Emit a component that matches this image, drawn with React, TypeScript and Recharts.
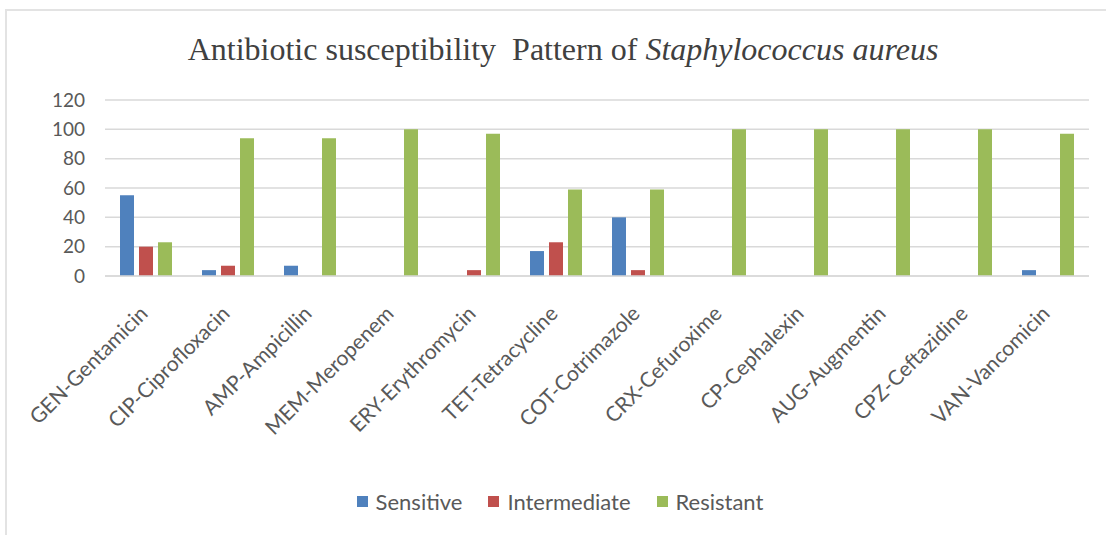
import React from "react";
import {
  BarChart,
  Bar,
  XAxis,
  YAxis,
  CartesianGrid,
  Legend,
} from "recharts";

const CATEGORIES = [
  "GEN-Gentamicin",
  "CIP-Ciprofloxacin",
  "AMP-Ampicillin",
  "MEM-Meropenem",
  "ERY-Erythromycin",
  "TET-Tetracycline",
  "COT-Cotrimazole",
  "CRX-Cefuroxime",
  "CP-Cephalexin",
  "AUG-Augmentin",
  "CPZ-Ceftazidine",
  "VAN-Vancomicin",
];

const SENSITIVE = [55, 4, 7, 0, 0, 17, 40, 0, 0, 0, 0, 4];
const INTERMEDIATE = [20, 7, 0, 0, 4, 23, 4, 0, 0, 0, 0, 0];
const RESISTANT = [23, 94, 94, 100, 97, 59, 59, 100, 100, 100, 100, 97];

const Y_TICKS = [0, 20, 40, 60, 80, 100, 120];

const SERIES = [
  { key: "sensitive", name: "Sensitive", color: "#4F81BD" },
  { key: "intermediate", name: "Intermediate", color: "#C0504D" },
  { key: "resistant", name: "Resistant", color: "#9BBB59" },
];

const data = CATEGORIES.map((name, i) => ({
  name,
  sensitive: SENSITIVE[i],
  intermediate: INTERMEDIATE[i],
  resistant: RESISTANT[i],
}));

const TEXT = "#595959";
const FONT = "Lato, 'Open Sans', sans-serif";

function AngledTick({ x, y, payload }: { x?: number; y?: number; payload?: { value: string } }) {
  return (
    <text
      x={0}
      y={0}
      transform={`translate(${(x ?? 0) + 3}, ${(y ?? 0) + 31}) rotate(-45)`}
      textAnchor="end"
      fill={TEXT}
      fontSize={21}
      fontFamily={FONT}
    >
      {payload?.value}
    </text>
  );
}

function LegendBox() {
  return (
    <div
      style={{
        display: "flex",
        justifyContent: "center",
        gap: 26,
        fontFamily: FONT,
        fontSize: 22,
        color: TEXT,
        paddingLeft: 14,
      }}
    >
      {SERIES.map((s) => (
        <div key={s.key} style={{ display: "flex", alignItems: "center", gap: 8 }}>
          <span style={{ width: 11, height: 11, background: s.color, display: "inline-block" }} />
          <span>{s.name}</span>
        </div>
      ))}
    </div>
  );
}

export default function App() {
  return (
    <div
      style={{
        position: "absolute",
        left: 0,
        top: 0,
        width: 1106,
        height: 535,
        background: "#fff",
        overflow: "hidden",
      }}
    >
      <div
        style={{
          position: "absolute",
          left: 5,
          top: 9,
          width: 1120,
          height: 540,
          borderTop: "2px solid #e3e3e3",
          borderLeft: "2px solid #e3e3e3",
        }}
      />
      <div
        style={{
          position: "absolute",
          left: 0,
          top: 31,
          width: 1126,
          textAlign: "center",
          fontFamily: "'Liberation Serif', serif",
          fontSize: 32,
          color: "#404040",
          whiteSpace: "pre",
        }}
      >
        {"Antibiotic susceptibility  Pattern of "}
        <i>Staphylococcus aureus</i>
      </div>
      <div style={{ position: "absolute", left: 0, top: 0 }}>
        <BarChart
          width={1106}
          height={535}
          data={data}
          margin={{ top: 100, right: 17, bottom: 0, left: 0 }}
          barSize={14}
          barGap={5}
        >
          <CartesianGrid vertical={false} stroke="#d9d9d9" strokeWidth={1.5} />
          <XAxis
            dataKey="name"
            interval={0}
            height={232}
            axisLine={{ stroke: "#d9d9d9", strokeWidth: 1.5 }}
            tickLine={false}
            tick={<AngledTick />}
          />
          <YAxis
            width={105}
            domain={[0, 120]}
            ticks={Y_TICKS}
            axisLine={false}
            tickLine={false}
            tickMargin={14}
            tick={{ fill: TEXT, fontSize: 19, fontFamily: FONT }}
          />
          {SERIES.map((s) => (
            <Bar
              key={s.key}
              dataKey={s.key}
              name={s.name}
              fill={s.color}
              isAnimationActive={false}
            />
          ))}
          <Legend
            content={<LegendBox />}
            wrapperStyle={{ top: 488, left: 0, width: 1106 }}
          />
        </BarChart>
      </div>
    </div>
  );
}
